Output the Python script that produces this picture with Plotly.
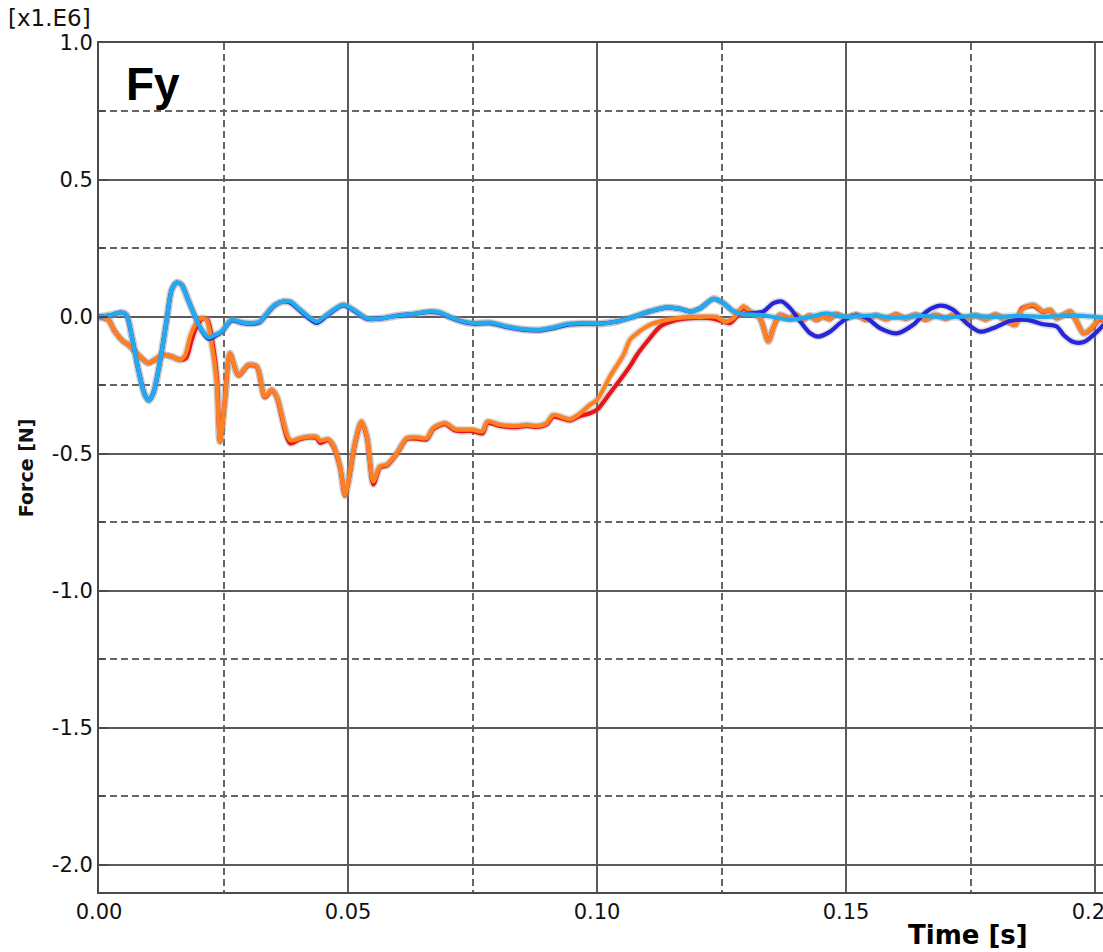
import plotly.graph_objects as go

# Time [s] and force [x1.E6 N] samples for each curve
red_t = [0.0000, 0.0019, 0.0032, 0.0049, 0.0059, 0.0079, 0.0099, 0.0112, 0.0129, 0.0146,
         0.0163, 0.0175, 0.0186, 0.0196, 0.0208, 0.0218, 0.0228, 0.0237, 0.0243, 0.0253,
         0.0263, 0.0280, 0.0300, 0.0317, 0.0333, 0.0347, 0.0357, 0.0384, 0.0404, 0.0424,
         0.0437, 0.0444, 0.0460, 0.0470, 0.0484, 0.0494, 0.0500, 0.0514, 0.0527, 0.0538,
         0.0551, 0.0564, 0.0578, 0.0598, 0.0618, 0.0638, 0.0658, 0.0671, 0.0695, 0.0715,
         0.0750, 0.0770, 0.0780, 0.0805, 0.0839, 0.0859, 0.0879, 0.0899, 0.0912, 0.0946,
         0.0966, 0.0986, 0.1000, 0.1026, 0.1066, 0.1080, 0.1106, 0.1127, 0.1153, 0.1187,
         0.1227, 0.1254, 0.1267, 0.1280, 0.1294, 0.1307, 0.1327, 0.1344, 0.1354, 0.1367,
         0.1387, 0.1400, 0.1413, 0.1427, 0.1440, 0.1453, 0.1467, 0.1480, 0.1500, 0.1520,
         0.1540, 0.1560, 0.1580, 0.1600, 0.1620, 0.1640, 0.1660, 0.1680, 0.1700, 0.1720,
         0.1740, 0.1760, 0.1780, 0.1800, 0.1820, 0.1840, 0.1853, 0.1876, 0.1896, 0.1910,
         0.1923, 0.1950, 0.1963, 0.1977, 0.1993, 0.2010, 0.2020]
red_v = [0.000, -0.012, -0.054, -0.090, -0.102, -0.139, -0.169, -0.157, -0.139, -0.145,
         -0.157, -0.150, -0.085, -0.035, -0.006, -0.012, -0.095, -0.230, -0.455, -0.300,
         -0.135, -0.214, -0.177, -0.183, -0.293, -0.268, -0.293, -0.462, -0.446, -0.440,
         -0.442, -0.460, -0.450, -0.470, -0.548, -0.652, -0.610, -0.463, -0.385, -0.440,
         -0.612, -0.550, -0.543, -0.500, -0.446, -0.445, -0.447, -0.410, -0.392, -0.415,
         -0.417, -0.425, -0.388, -0.398, -0.403, -0.398, -0.402, -0.392, -0.365, -0.378,
         -0.362, -0.352, -0.339, -0.279, -0.181, -0.139, -0.078, -0.035, -0.015, -0.005,
         -0.005, -0.017, -0.023, 0.000, 0.031, 0.018, -0.005, -0.088, -0.041, 0.007,
         -0.005, 0.007, -0.011, 0.005, -0.011, 0.000, -0.008, 0.010, -0.004, 0.008,
         -0.010, 0.006, -0.008, 0.009, -0.006, 0.008, -0.010, 0.007, -0.006, 0.010,
         -0.008, 0.006, -0.009, 0.008, -0.012, -0.029, 0.030, 0.040, 0.018, 0.024,
         -0.005, 0.018, -0.017, -0.060, -0.043, -0.008, -0.022]

orange_t = [0.0000, 0.0019, 0.0032, 0.0049, 0.0059, 0.0079, 0.0099, 0.0112, 0.0129, 0.0146,
            0.0163, 0.0173, 0.0183, 0.0193, 0.0206, 0.0216, 0.0226, 0.0236, 0.0243, 0.0253,
            0.0263, 0.0280, 0.0300, 0.0317, 0.0333, 0.0347, 0.0357, 0.0384, 0.0404, 0.0424,
            0.0437, 0.0444, 0.0460, 0.0470, 0.0484, 0.0494, 0.0500, 0.0514, 0.0527, 0.0538,
            0.0551, 0.0564, 0.0578, 0.0598, 0.0618, 0.0638, 0.0658, 0.0671, 0.0695, 0.0715,
            0.0750, 0.0770, 0.0780, 0.0805, 0.0839, 0.0859, 0.0879, 0.0899, 0.0912, 0.0946,
            0.0966, 0.0986, 0.1000, 0.1026, 0.1053, 0.1066, 0.1080, 0.1106, 0.1140, 0.1174,
            0.1207, 0.1240, 0.1257, 0.1274, 0.1294, 0.1307, 0.1327, 0.1344, 0.1354, 0.1367,
            0.1387, 0.1400, 0.1413, 0.1427, 0.1440, 0.1453, 0.1467, 0.1480, 0.1500, 0.1520,
            0.1540, 0.1560, 0.1580, 0.1600, 0.1620, 0.1640, 0.1660, 0.1680, 0.1700, 0.1720,
            0.1740, 0.1760, 0.1780, 0.1800, 0.1820, 0.1840, 0.1853, 0.1876, 0.1896, 0.1910,
            0.1923, 0.1950, 0.1963, 0.1977, 0.1993, 0.2010, 0.2020]
orange_v = [0.000, -0.012, -0.054, -0.090, -0.102, -0.139, -0.169, -0.157, -0.139, -0.145,
            -0.157, -0.139, -0.072, -0.029, -0.005, -0.011, -0.095, -0.230, -0.455, -0.300,
            -0.133, -0.212, -0.175, -0.181, -0.291, -0.266, -0.291, -0.450, -0.443, -0.437,
            -0.438, -0.452, -0.447, -0.467, -0.546, -0.650, -0.607, -0.461, -0.382, -0.437,
            -0.601, -0.546, -0.540, -0.498, -0.443, -0.440, -0.443, -0.406, -0.388, -0.410,
            -0.412, -0.418, -0.382, -0.394, -0.398, -0.394, -0.398, -0.388, -0.358, -0.374,
            -0.352, -0.321, -0.303, -0.218, -0.139, -0.084, -0.060, -0.029, -0.011, -0.002,
            0.000, 0.000, -0.017, -0.005, 0.038, 0.020, -0.005, -0.090, -0.041, 0.007,
            -0.005, 0.007, -0.011, 0.005, -0.011, 0.000, -0.008, 0.010, -0.004, 0.008,
            -0.010, 0.006, -0.008, 0.009, -0.006, 0.008, -0.010, 0.007, -0.006, 0.010,
            -0.008, 0.006, -0.009, 0.008, -0.012, -0.029, 0.026, 0.044, 0.020, 0.025,
            -0.005, 0.020, -0.017, -0.060, -0.041, -0.005, -0.020]

blue_t = [0.0000, 0.0025, 0.0045, 0.0055, 0.0066, 0.0079, 0.0092, 0.0100, 0.0109, 0.0122,
          0.0136, 0.0146, 0.0156, 0.0166, 0.0179, 0.0193, 0.0206, 0.0220, 0.0233, 0.0246,
          0.0266, 0.0287, 0.0307, 0.0323, 0.0337, 0.0353, 0.0370, 0.0384, 0.0404, 0.0437,
          0.0457, 0.0490, 0.0511, 0.0538, 0.0570, 0.0600, 0.0630, 0.0665, 0.0685, 0.0705,
          0.0732, 0.0752, 0.0785, 0.0819, 0.0852, 0.0886, 0.0912, 0.0939, 0.0973, 0.1006,
          0.1040, 0.1073, 0.1106, 0.1140, 0.1167, 0.1187, 0.1207, 0.1234, 0.1254, 0.1274,
          0.1294, 0.1307, 0.1334, 0.1354, 0.1371, 0.1388, 0.1408, 0.1428, 0.1444, 0.1468,
          0.1488, 0.1508, 0.1522, 0.1542, 0.1568, 0.1602, 0.1635, 0.1662, 0.1689, 0.1715,
          0.1742, 0.1769, 0.1796, 0.1829, 0.1863, 0.1896, 0.1923, 0.1937, 0.1957, 0.1977,
          0.1997, 0.2017]
blue_v = [0.000, 0.007, 0.016, 0.007, -0.072, -0.193, -0.285, -0.305, -0.279, -0.169,
          -0.011, 0.099, 0.125, 0.117, 0.062, 0.001, -0.049, -0.080, -0.070, -0.056,
          -0.013, -0.022, -0.025, -0.019, 0.011, 0.042, 0.056, 0.052, 0.022, -0.022,
          0.004, 0.042, 0.024, -0.007, -0.005, 0.005, 0.010, 0.018, 0.014, -0.002,
          -0.019, -0.025, -0.023, -0.037, -0.047, -0.049, -0.041, -0.029, -0.025, -0.025,
          -0.017, 0.000, 0.020, 0.034, 0.029, 0.020, 0.031, 0.066, 0.050, 0.020,
          0.010, 0.013, 0.020, 0.050, 0.056, 0.031, -0.017, -0.060, -0.072, -0.054,
          -0.023, 0.000, 0.005, -0.005, -0.041, -0.060, -0.029, 0.020, 0.041, 0.026,
          -0.023, -0.054, -0.041, -0.015, -0.011, -0.027, -0.035, -0.066, -0.092, -0.092,
          -0.066, -0.029]

cyan_t = [0.0000, 0.0025, 0.0045, 0.0055, 0.0066, 0.0079, 0.0092, 0.0100, 0.0109, 0.0122,
          0.0136, 0.0146, 0.0156, 0.0166, 0.0179, 0.0193, 0.0206, 0.0220, 0.0233, 0.0246,
          0.0266, 0.0287, 0.0307, 0.0323, 0.0337, 0.0353, 0.0370, 0.0384, 0.0404, 0.0437,
          0.0457, 0.0490, 0.0511, 0.0538, 0.0570, 0.0600, 0.0630, 0.0665, 0.0685, 0.0705,
          0.0732, 0.0752, 0.0785, 0.0819, 0.0852, 0.0886, 0.0912, 0.0939, 0.0973, 0.1006,
          0.1040, 0.1073, 0.1106, 0.1140, 0.1167, 0.1187, 0.1207, 0.1234, 0.1254, 0.1274,
          0.1294, 0.1327, 0.1367, 0.1388, 0.1428, 0.1460, 0.1500, 0.1550, 0.1600, 0.1650,
          0.1700, 0.1750, 0.1800, 0.1850, 0.1900, 0.1950, 0.2017]
cyan_v = [0.000, 0.007, 0.016, 0.007, -0.072, -0.193, -0.285, -0.305, -0.279, -0.169,
          -0.011, 0.099, 0.125, 0.117, 0.062, 0.001, -0.047, -0.075, -0.066, -0.054,
          -0.011, -0.020, -0.023, -0.017, 0.013, 0.044, 0.056, 0.056, 0.026, -0.017,
          0.007, 0.044, 0.026, -0.005, -0.005, 0.005, 0.010, 0.020, 0.016, 0.000,
          -0.017, -0.023, -0.021, -0.035, -0.045, -0.047, -0.039, -0.027, -0.023, -0.025,
          -0.017, 0.000, 0.020, 0.034, 0.029, 0.020, 0.031, 0.066, 0.050, 0.020,
          0.010, 0.007, -0.005, -0.011, 0.000, 0.013, 0.000, 0.005, -0.003, 0.004,
          -0.002, 0.003, 0.000, 0.004, 0.000, 0.006, -0.003]

y_ticks = [-2.0, -1.5, -1.0, -0.5, 0.0, 0.5, 1.0]
y_labels = ["-2.0", "-1.5", "-1.0", "-0.5", "0.0", "0.5", "1.0"]
x_ticks = [0.00, 0.05, 0.10, 0.15, 0.20]
x_labels = ["0.00", "0.05", "0.10", "0.15", "0.20"]

series = [
    (red_t, red_v, "#E8141A"),
    (orange_t, orange_v, "#FF8020"),
    (blue_t, blue_v, "#2626D8"),
    (cyan_t, cyan_v, "#22AAEE"),
]

fig = go.Figure()

# soft grey halo under every curve
for t, v, _ in series:
    fig.add_trace(go.Scatter(x=t, y=v, mode="lines", hoverinfo="skip",
                             line=dict(color="rgba(150,150,150,0.30)", width=7.5,
                                       shape="spline", smoothing=0.8),
                             showlegend=False))
for t, v, c in series:
    fig.add_trace(go.Scatter(x=t, y=v, mode="lines",
                             line=dict(color=c, width=4.2, shape="spline", smoothing=0.8),
                             showlegend=False))

grid_dark = "#5a5a5a"
tick_font = dict(family="DejaVu Sans", size=21, color="#111")

fig.update_xaxes(
    range=[0, 0.2016], tickvals=x_ticks, ticktext=x_labels,
    showgrid=True, gridcolor=grid_dark, gridwidth=1.5,
    minor=dict(tickvals=[0.025, 0.075, 0.125, 0.175], showgrid=True,
               gridcolor="#666666", griddash="7px,4px", gridwidth=1.5),
    showline=True, linecolor="#4a4a4a", linewidth=2, mirror=True,
    zeroline=False, ticks="", ticklabelstandoff=0, ticklabeloverflow="allow",
    automargin=False, tickfont=tick_font,
)
fig.update_yaxes(
    range=[-2.1, 1.0], tickvals=y_ticks, ticktext=y_labels,
    showgrid=True, gridcolor=grid_dark, gridwidth=1.5,
    minor=dict(tickvals=[-1.75, -1.25, -0.75, -0.25, 0.25, 0.75], showgrid=True,
               gridcolor="#666666", griddash="7px,4px", gridwidth=1.5,
               ticks="inside", ticklen=6, tickcolor="#4a4a4a"),
    showline=True, linecolor="#4a4a4a", linewidth=2,
    zeroline=False, ticks="inside", ticklen=9, tickcolor="#4a4a4a", tickwidth=1.5,
    automargin=False, tickfont=tick_font,
)

fig.update_layout(
    width=1103, height=952,
    margin=dict(l=99, r=0, t=43, b=60, autoexpand=False),
    paper_bgcolor="white", plot_bgcolor="white",
    shapes=[dict(type="line", xref="x", yref="paper", x0=0.10, x1=0.10, y0=0, y1=1,
                 line=dict(color="#cfcfcf", width=2), layer="between")],
    annotations=[
        dict(text="<b>Fy</b>", xref="paper", yref="paper", x=0.025, y=0.985,
             xanchor="left", yanchor="top", showarrow=False,
             font=dict(family="Liberation Sans", size=46, color="black")),
        dict(text="[x1.E6]", xref="paper", yref="paper", x=-0.006, y=1.0,
             xanchor="right", yanchor="bottom", yshift=10, showarrow=False,
             font=dict(family="DejaVu Sans", size=23, color="#111")),
        dict(text="<b>Force [N]</b>", xref="paper", yref="paper", x=-0.073, y=0.5,
             xanchor="center", yanchor="middle", textangle=-90, showarrow=False,
             font=dict(family="DejaVu Sans", size=19, color="#111")),
        dict(text="<b>Time [s]</b>", xref="paper", yref="paper", x=0.866, y=0,
             xanchor="center", yanchor="top", yshift=-26, showarrow=False,
             font=dict(family="DejaVu Sans", size=26, color="black")),
    ],
)

fig.write_html("out.html")
